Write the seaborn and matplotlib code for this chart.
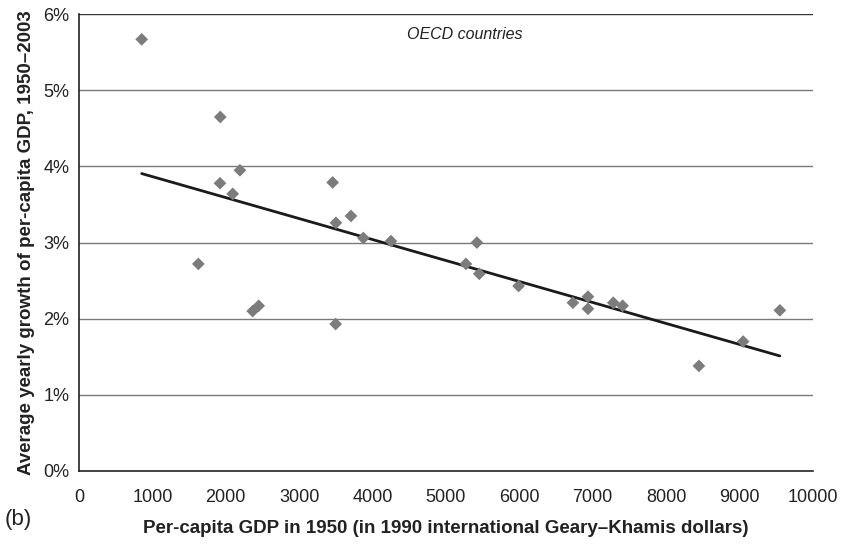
import matplotlib.pyplot as plt
import numpy as np
import pandas as pd
import seaborn as sns
from matplotlib.ticker import FuncFormatter

# per-capita GDP 1950 (1990 GK dollars) and average yearly growth 1950-2003 (%)
gdp_1950 = [854, 1925, 1921, 2193, 2094, 3456, 3501, 3706, 3874, 4251,
            1626, 2366, 2448, 3497, 5422, 5272, 5454, 5990, 6730, 6935,
            6935, 7280, 7407, 9550, 9050, 8447]
growth = [5.67, 4.65, 3.78, 3.95, 3.64, 3.79, 3.26, 3.35, 3.06, 3.02,
          2.72, 2.10, 2.17, 1.93, 3.00, 2.72, 2.59, 2.43, 2.21, 2.29,
          2.13, 2.21, 2.17, 2.11, 1.70, 1.38]
x_ticks = list(range(0, 10001, 1000))
y_ticks = [0, 1, 2, 3, 4, 5, 6]

df = pd.DataFrame({"gdp": gdp_1950, "growth": growth})

sns.set_style("white")
plt.rcParams["font.family"] = ["Liberation Sans", "DejaVu Sans"]

fig = plt.figure(figsize=(8.45, 5.47), dpi=100)
ax = fig.add_axes([0.0935, 0.139, 0.8685, 0.835])

for y in y_ticks[1:]:
    ax.axhline(y, color="#7a7a7a" if y < 6 else "#333333", lw=1.0, zorder=0)

sns.regplot(x="gdp", y="growth", data=df, ax=ax, ci=None, truncate=True,
            scatter=False, line_kws={"color": "#1a1a1a", "lw": 2.0})
sns.scatterplot(x="gdp", y="growth", data=df, ax=ax, marker="D", s=42,
                color="#7c7c7c", edgecolor="none", zorder=3)

ax.set_xlim(0, 10000)
ax.set_ylim(0, 6)
ax.set_xticks(x_ticks)
ax.set_yticks(y_ticks)
ax.yaxis.set_major_formatter(FuncFormatter(lambda v, p: f"{v:.0f}%"))
for lab in ax.get_xticklabels() + ax.get_yticklabels():
    lab.set_fontsize(13)
    lab.set_color("#222222")

ax.tick_params(axis="x", direction="inout", length=8, width=1, color="#222222", pad=9)
ax.tick_params(axis="y", direction="inout", length=8, width=1, color="#222222", pad=3)
for side in ["top", "right"]:
    ax.spines[side].set_visible(False)
for side in ["left", "bottom"]:
    ax.spines[side].set_color("#222222")
    ax.spines[side].set_linewidth(1.2)

ax.set_xlabel("Per-capita GDP in 1950 (in 1990 international Geary\u2013Khamis dollars)",
              fontsize=13.5, fontweight="bold", labelpad=10, color="#222222")
ax.set_ylabel("Average yearly growth of per-capita GDP, 1950\u20132003",
              fontsize=13.5, fontweight="bold", labelpad=6, color="#222222")

ax.text(0.525, 0.955, "OECD countries", transform=ax.transAxes, ha="center",
        va="center", fontsize=11.5, style="italic", color="#222222")
fig.text(0.005, 0.04, "(b)", fontsize=16, color="#222222")

fig.savefig("out.png", dpi=100)
